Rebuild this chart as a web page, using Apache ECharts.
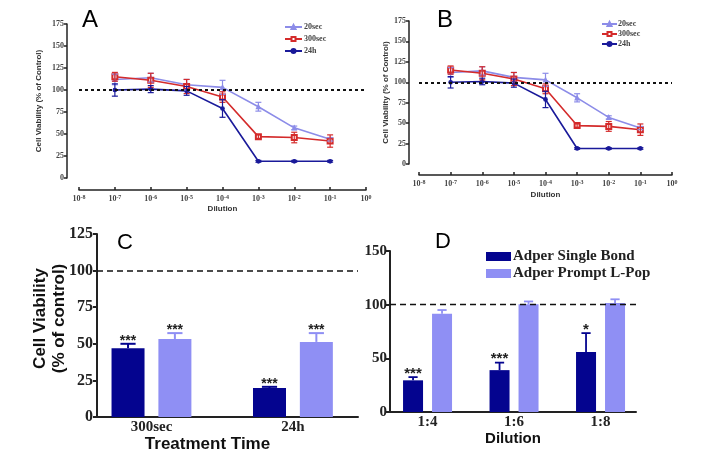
<!DOCTYPE html>
<html><head><meta charset="utf-8">
<script src="https://cdn.jsdelivr.net/npm/echarts@6/dist/echarts.min.js"></script>
<style>html,body{margin:0;padding:0;background:#fff}#c{width:701px;height:461px}</style>
</head><body><div id="c"></div>
<script>
// ---- Panels A & B: dose response ----
const dilutions = [1e-7, 1e-6, 1e-5, 1e-4, 1e-3, 1e-2, 1e-1];
const s20sec = [112, 114, 106, 103, 81, 57, 44];
const s20secErr = [6, 5, 6, 8, 5, 2, 2];
const s300sec = [115, 111, 104, 92, 47, 46, 42];
const s300secErr = [5, 8, 8, 6, 2, 6, 7];
const s24h = [100, 101, 99, 79, 19, 19, 19];
const s24hErr = [7, 4, 5, 10, 1, 1, 1];
const lineSeriesNames = ['20sec', '300sec', '24h'];

// ---- Panel C ----
const treatmentTimes = ['300sec', '24h'];
const singleBondC = [47, 19.8];
const singleBondCErr = [3, 0.8];
const singleBondCSig = ['***', '***'];
const promptC = [53.3, 51.3];
const promptCErr = [4, 6];
const promptCSig = ['***', '***'];

// ---- Panel D ----
const dilutionRatios = ['1:4', '1:6', '1:8'];
const singleBondD = [29.5, 39, 56];
const singleBondDErr = [3, 7, 17.5];
const singleBondDSig = ['***', '***', '*'];
const promptD = [91.5, 100.5, 101.5];
const promptDErr = [3.5, 2.5, 3.5];
const promptDSig = ['', '', ''];

const barNames = ['Adper Single Bond', 'Adper Prompt L-Pop'];

const C20 = '#8c8ce8', C300 = '#d42b2b', C24 = '#1a1a9a';
const DARK = '#04048f', LIGHT = '#8f8ff4';

const chart = echarts.init(document.getElementById('c'));

function sup(v) {
  const e = Math.round(Math.log10(v));
  return '{b|10}{s|' + e + '}';
}

function logXAxis(gi, offset, nameGap) {
  return {
    gridIndex: gi, type: 'log', logBase: 10, min: 1e-8, max: 1, splitNumber: 8,
    offset: offset, name: 'Dilution', nameLocation: 'middle', nameGap: nameGap,
    nameTextStyle: { fontFamily: 'Liberation Sans', fontWeight: 'bold', fontSize: 8, color: '#333' },
    axisLine: { show: true, onZero: false, lineStyle: { color: '#222', width: 1.5 } },
    axisTick: { inside: true, length: 3, lineStyle: { color: '#222', width: 1.5 } },
    minorTick: { show: false }, splitLine: { show: false },
    axisLabel: {
      margin: 4, formatter: sup,
      rich: {
        b: { fontFamily: 'Liberation Serif', fontWeight: 'bold', fontSize: 8, color: '#444' },
        s: { fontFamily: 'Liberation Serif', fontWeight: 'bold', fontSize: 6, color: '#444', padding: [0, 0, 3, 0] }
      }
    }
  };
}
function lineYAxis(gi, offset, nameGap) {
  return {
    gridIndex: gi, type: 'value', min: 0, max: 175, interval: 25, offset: offset,
    name: 'Cell Viability (% of Control)', nameLocation: 'middle', nameGap: nameGap,
    nameTextStyle: { fontFamily: 'Liberation Sans', fontWeight: 'bold', fontSize: 8, color: '#333' },
    axisLine: { show: true, onZero: false, lineStyle: { color: '#222', width: 1.5 } },
    axisTick: { show: true, length: 3, lineStyle: { color: '#222', width: 1.5 } },
    splitLine: { show: false },
    axisLabel: { margin: 3, fontFamily: 'Liberation Serif', fontWeight: 'bold', fontSize: 8, color: '#444' }
  };
}

function lineSeries(gi, name, vals, color, symbol, size, withRef) {
  const s = {
    type: 'line', name: name, xAxisIndex: gi, yAxisIndex: gi,
    data: dilutions.map((d, i) => [d, vals[i]]),
    lineStyle: { color: color, width: 1.6 }, itemStyle: { color: color, borderColor: color, borderWidth: 1.2 },
    symbol: symbol, symbolSize: size, z: 3, silent: true
  };
  if (withRef) {
    s.markLine = {
      silent: true, symbol: 'none', label: { show: false },
      lineStyle: { color: '#111', type: [3, 3], width: 2 },
      data: [{ yAxis: 100 }]
    };
  }
  return s;
}
function lineErr(gi, vals, errs, color) {
  return {
    type: 'custom', xAxisIndex: gi, yAxisIndex: gi, silent: true, z: 4,
    data: dilutions.map((d, i) => [d, vals[i], errs[i]]),
    renderItem(params, api) {
      const x = api.value(0), y = api.value(1), e = api.value(2);
      const hi = api.coord([x, y + e]), lo = api.coord([x, y - e]);
      const st = { stroke: color, lineWidth: 1.2 };
      const c = 3;
      return { type: 'group', children: [
        { type: 'line', shape: { x1: hi[0], y1: hi[1], x2: lo[0], y2: lo[1] }, style: st },
        { type: 'line', shape: { x1: hi[0] - c, y1: hi[1], x2: hi[0] + c, y2: hi[1] }, style: st },
        { type: 'line', shape: { x1: lo[0] - c, y1: lo[1], x2: lo[0] + c, y2: lo[1] }, style: st }
      ] };
    }
  };
}

function barSeries(gi, name, vals, color, bw, gap, refStyle) {
  const s = {
    type: 'bar', name: name, xAxisIndex: gi, yAxisIndex: gi,
    data: vals.map((v, i) => [i, v]), barWidth: bw, barGap: (gap * 100) + '%',
    itemStyle: { color: color }, silent: true, z: 2
  };
  if (refStyle) {
    s.markLine = {
      silent: true, symbol: 'none', label: { show: false },
      lineStyle: refStyle, data: [{ yAxis: 100 }]
    };
  }
  return s;
}
function barErr(gi, vals, errs, sigs, color, side, bw, gap, lw, fs) {
  const off = side * bw * (1 + gap) / 2;
  return {
    type: 'custom', xAxisIndex: gi, yAxisIndex: gi, silent: true, z: 5,
    data: vals.map((v, i) => [i, v, errs[i]]),
    renderItem(params, api) {
      const x = api.value(0), y = api.value(1), e = api.value(2);
      const b = api.coord([x, y]), t = api.coord([x, y + e]);
      const px = b[0] + off, c = bw * 0.23;
      const st = { stroke: color, lineWidth: lw };
      const ch = [
        { type: 'line', shape: { x1: px, y1: b[1], x2: px, y2: t[1] }, style: st },
        { type: 'line', shape: { x1: px - c, y1: t[1], x2: px + c, y2: t[1] }, style: st }
      ];
      const sg = sigs[params.dataIndex];
      if (sg) ch.push({ type: 'text', x: px, y: t[1] + 4, style: {
        text: sg, align: 'center', verticalAlign: 'bottom',
        fontFamily: 'Liberation Sans', fontWeight: 'bold', fontSize: fs, fill: '#222' } });
      return { type: 'group', children: ch };
    }
  };
}

function catValueAxis(gi, cats, min, max, nameGap, name, nameSize, padding) {
  const idx = cats.map((c, i) => i);
  return {
    gridIndex: gi, type: 'value', min: min, max: max,
    name: name, nameLocation: 'middle', nameGap: nameGap,
    nameTextStyle: { fontFamily: 'Liberation Sans', fontWeight: 'bold', fontSize: nameSize, color: '#111', padding: padding || 0 },
    axisLine: { show: true, onZero: false, lineStyle: { color: '#222', width: 2 } },
    axisTick: { show: false }, splitLine: { show: false },
    axisLabel: { customValues: idx, margin: 3, formatter: v => cats[Math.round(v)],
      fontFamily: 'Liberation Serif', fontWeight: 'bold', fontSize: 15, color: '#222' }
  };
}

const option = {
  backgroundColor: '#fff',
  animation: false,
  title: [
    { text: 'A', left: 82, top: 8, padding: 0, textStyle: { fontFamily: 'Liberation Sans', fontWeight: 'normal', fontSize: 24, color: '#000' } },
    { text: 'B', left: 437, top: 8, padding: 0, textStyle: { fontFamily: 'Liberation Sans', fontWeight: 'normal', fontSize: 24, color: '#000' } },
    { text: 'C', left: 117, top: 232, padding: 0, textStyle: { fontFamily: 'Liberation Sans', fontWeight: 'normal', fontSize: 22, color: '#000' } },
    { text: 'D', left: 435, top: 231, padding: 0, textStyle: { fontFamily: 'Liberation Sans', fontWeight: 'normal', fontSize: 22, color: '#000' } }
  ],
  legend: [
    { orient: 'vertical', left: 284, top: 23, itemWidth: 17, itemHeight: 5, itemGap: 4, padding: 0,
      data: lineSeriesNames, selectedMode: false,
      textStyle: { fontFamily: 'Liberation Serif', fontWeight: 'bold', fontSize: 8, color: '#444', padding: [0, 0, 0, -3] } },
    { orient: 'vertical', left: 601, top: 20, itemWidth: 15, itemHeight: 5, itemGap: 2, padding: 0,
      data: lineSeriesNames, selectedMode: false,
      textStyle: { fontFamily: 'Liberation Serif', fontWeight: 'bold', fontSize: 8, color: '#444', padding: [0, 0, 0, -4] } },
    { orient: 'vertical', left: 486, top: 249, itemWidth: 25, itemHeight: 9, itemGap: 2, padding: 0,
      icon: 'rect', data: barNames, selectedMode: false,
      textStyle: { fontFamily: 'Liberation Serif', fontWeight: 'bold', fontSize: 15, color: '#222', padding: [0, 0, 0, -3] } }
  ],
  grid: [
    { left: 79, top: 24, width: 287, height: 154 },
    { left: 419, top: 21, width: 253, height: 143 },
    { left: 97, top: 234, width: 261, height: 183 },
    { left: 390, top: 251, width: 246, height: 161 }
  ],
  xAxis: [
    logXAxis(0, 12, 15),
    logXAxis(1, 11, 16),
    catValueAxis(2, treatmentTimes, -0.385, 1.46, 15, 'Treatment Time', 17, [0, 40, 0, 0]),
    catValueAxis(3, dilutionRatios, -0.434, 2.41, 16, 'Dilution', 15)
  ],
  yAxis: [
    lineYAxis(0, 12, 24),
    lineYAxis(1, 10, 18),
    {
      gridIndex: 2, type: 'value', min: 0, max: 125, interval: 25,
      name: 'Cell Viability\n(% of control)', nameLocation: 'middle', nameGap: 28, nameMoveOverlap: false,
      nameTextStyle: { fontFamily: 'Liberation Sans', fontWeight: 'bold', fontSize: 17, color: '#111', lineHeight: 19, padding: [0, 0, 0, 14] },
      axisLine: { show: true, onZero: false, lineStyle: { color: '#222', width: 2 } },
      axisTick: { show: true, length: 4, lineStyle: { color: '#222', width: 2 } },
      splitLine: { show: false },
      axisLabel: { margin: 4, fontFamily: 'Liberation Serif', fontWeight: 'bold', fontSize: 16, color: '#222' }
    },
    {
      gridIndex: 3, type: 'value', min: 0, max: 150, interval: 50,
      axisLine: { show: true, onZero: false, lineStyle: { color: '#222', width: 2 } },
      axisTick: { show: true, length: 4, lineStyle: { color: '#222', width: 2 } },
      splitLine: { show: false },
      axisLabel: { margin: 3, fontFamily: 'Liberation Serif', fontWeight: 'bold', fontSize: 15, color: '#222' }
    }
  ],
  series: [
    // A
    lineSeries(0, '20sec', s20sec, C20, 'triangle', 4, true),
    lineSeries(0, '300sec', s300sec, C300, 'emptyRect', 5, false),
    lineSeries(0, '24h', s24h, C24, 'circle', 3.5, false),
    lineErr(0, s20sec, s20secErr, C20),
    lineErr(0, s300sec, s300secErr, C300),
    lineErr(0, s24h, s24hErr, C24),
    // B
    lineSeries(1, '20sec', s20sec, C20, 'triangle', 4, true),
    lineSeries(1, '300sec', s300sec, C300, 'emptyRect', 5, false),
    lineSeries(1, '24h', s24h, C24, 'circle', 3.5, false),
    lineErr(1, s20sec, s20secErr, C20),
    lineErr(1, s300sec, s300secErr, C300),
    lineErr(1, s24h, s24hErr, C24),
    // C
    barSeries(2, barNames[0], singleBondC, DARK, 33, 0.42, { color: '#111', type: [6, 4], width: 1.5 }),
    barSeries(2, barNames[1], promptC, LIGHT, 33, 0.42, null),
    barErr(2, singleBondC, singleBondCErr, singleBondCSig, DARK, -1, 33, 0.42, 2, 14),
    barErr(2, promptC, promptCErr, promptCSig, LIGHT, 1, 33, 0.42, 2, 14),
    // D
    barSeries(3, barNames[0], singleBondD, DARK, 20, 0.45, { color: '#111', type: [6, 4], width: 1.3 }),
    barSeries(3, barNames[1], promptD, LIGHT, 20, 0.45, null),
    barErr(3, singleBondD, singleBondDErr, singleBondDSig, DARK, -1, 20, 0.45, 1.8, 15),
    barErr(3, promptD, promptDErr, promptDSig, LIGHT, 1, 20, 0.45, 1.8, 15)
  ]
};
chart.setOption(option);
</script>
</body></html>
